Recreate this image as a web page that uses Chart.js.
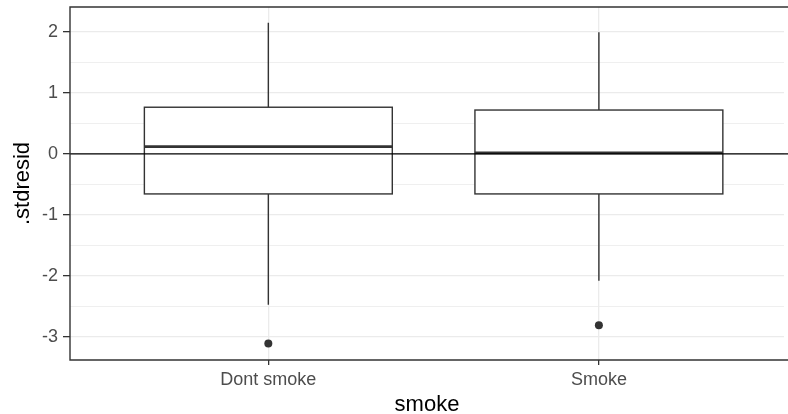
<!DOCTYPE html>
<html>
<head>
<meta charset="utf-8">
<script src="https://cdn.jsdelivr.net/npm/chart.js@4.4.1/dist/chart.umd.min.js"></script>
<style>
  html, body { margin: 0; padding: 0; background: #fff; }
  #wrap { width: 788px; height: 414px; }
</style>
</head>
<body>
<div id="wrap"><canvas id="chart"></canvas></div>
<script>
/* --- Data --- */
const categories = ['Dont smoke', 'Smoke'];
const whiskerLow = [-2.475, -2.08];
const q1 = [-0.656, -0.656];
const median = [0.12, 0.016];
const q3 = [0.766, 0.72];
const whiskerHigh = [2.15, 1.995];
const outliers = [-3.11, -2.81];
const yMajor = [-3, -2, -1, 0, 1, 2];
const yMinor = [-2.5, -1.5, -0.5, 0.5, 1.5];

const ink = '#333333';
const gridColor = '#EBEBEB';
const tickText = '#4D4D4D';
const boxHalf = 0.375;

const isMajor = (v) => Number.isInteger(v);

// boxes, whiskers, median and the y = 0 reference line, all through the scales
const boxPlugin = {
  id: 'boxes',
  beforeDatasetsDraw(chart) {
    const { ctx, chartArea, scales: { x, y } } = chart;
    ctx.save();
    ctx.strokeStyle = ink;
    ctx.lineCap = 'butt';
    categories.forEach((c, i) => {
      const cx = x.getPixelForValue(i + 1);
      const l = x.getPixelForValue(i + 1 - boxHalf);
      const r = x.getPixelForValue(i + 1 + boxHalf);
      const top = y.getPixelForValue(q3[i]);
      const bot = y.getPixelForValue(q1[i]);

      ctx.lineWidth = 1.4;
      ctx.beginPath();
      ctx.moveTo(cx, top); ctx.lineTo(cx, y.getPixelForValue(whiskerHigh[i]));
      ctx.moveTo(cx, bot); ctx.lineTo(cx, y.getPixelForValue(whiskerLow[i]));
      ctx.stroke();

      ctx.fillStyle = '#fff';
      ctx.fillRect(l, top, r - l, bot - top);
      ctx.strokeRect(l, top, r - l, bot - top);

      ctx.lineWidth = 2.8;
      const m = y.getPixelForValue(median[i]);
      ctx.beginPath();
      ctx.moveTo(l, m); ctx.lineTo(r, m);
      ctx.stroke();
    });

    // hline at 0, runs off the right edge like the panel
    const z = y.getPixelForValue(0);
    ctx.strokeStyle = '#000';
    ctx.lineWidth = 1.3;
    ctx.beginPath();
    ctx.moveTo(chartArea.left, z); ctx.lineTo(chart.width, z);
    ctx.stroke();
    ctx.restore();
  },
  afterDraw(chart) {
    // panel border (right side falls outside the picture)
    const { ctx, chartArea: a } = chart;
    ctx.save();
    ctx.strokeStyle = ink;
    ctx.lineWidth = 1.4;
    ctx.beginPath();
    ctx.moveTo(chart.width + 5, a.top); ctx.lineTo(a.left, a.top);
    ctx.lineTo(a.left, a.bottom); ctx.lineTo(chart.width + 5, a.bottom);
    ctx.stroke();
    ctx.restore();
  }
};

const noPad = (s) => { s.paddingTop = 0; s.paddingBottom = 0; s.paddingLeft = 0; s.paddingRight = 0; };

new Chart(document.getElementById('chart'), {
  type: 'scatter',
  data: {
    datasets: [{
      label: 'outliers',
      data: outliers.map((v, i) => ({ x: i + 1, y: v })),
      backgroundColor: ink,
      borderColor: ink,
      pointRadius: 4,
      borderWidth: 0
    }]
  },
  plugins: [boxPlugin],
  options: {
    responsive: true,
    maintainAspectRatio: false,
    animation: false,
    layout: { padding: { top: 7, right: 0, left: 0, bottom: 0 } },
    plugins: { legend: { display: false }, tooltip: { enabled: false } },
    scales: {
      x: {
        type: 'linear',
        min: 0.4,
        max: 2.56,
        afterBuildTicks: (s) => { s.ticks = categories.map((c, i) => ({ value: i + 1 })); },
        afterFit: (s) => { s.height = 54; noPad(s); },
        border: { display: false },
        grid: { color: gridColor, lineWidth: 1.3, tickColor: ink, tickLength: 5, tickWidth: 1.3 },
        ticks: {
          color: tickText,
          padding: 4,
          font: { family: "'Liberation Sans', Arial, sans-serif", size: 18 },
          callback: (v) => categories[v - 1]
        },
        title: {
          display: true,
          text: 'smoke',
          color: '#000',
          padding: 0,
          font: { family: "'Liberation Sans', Arial, sans-serif", size: 22, lineHeight: 0.8 }
        }
      },
      y: {
        min: -3.38,
        max: 2.41,
        afterBuildTicks: (s) => {
          s.ticks = yMajor.concat(yMinor).sort((a, b) => a - b).map((v) => ({ value: v }));
        },
        afterFit: (s) => { s.width = 70; noPad(s); },
        border: { display: false },
        grid: {
          color: gridColor,
          lineWidth: (c) => (isMajor(c.tick.value) ? 1.3 : 0.8),
          tickColor: (c) => (isMajor(c.tick.value) ? ink : 'rgba(0,0,0,0)'),
          tickLength: 7,
          tickWidth: 1.3
        },
        ticks: {
          color: tickText,
          padding: 5,
          font: { family: "'Liberation Sans', Arial, sans-serif", size: 18 },
          callback: (v) => (isMajor(v) ? String(v) : '')
        },
        title: {
          display: true,
          text: '.stdresid',
          color: '#000',
          padding: { top: 10, bottom: 0 },
          font: { family: "'Liberation Sans', Arial, sans-serif", size: 22 }
        }
      }
    }
  }
});
</script>
</body>
</html>
